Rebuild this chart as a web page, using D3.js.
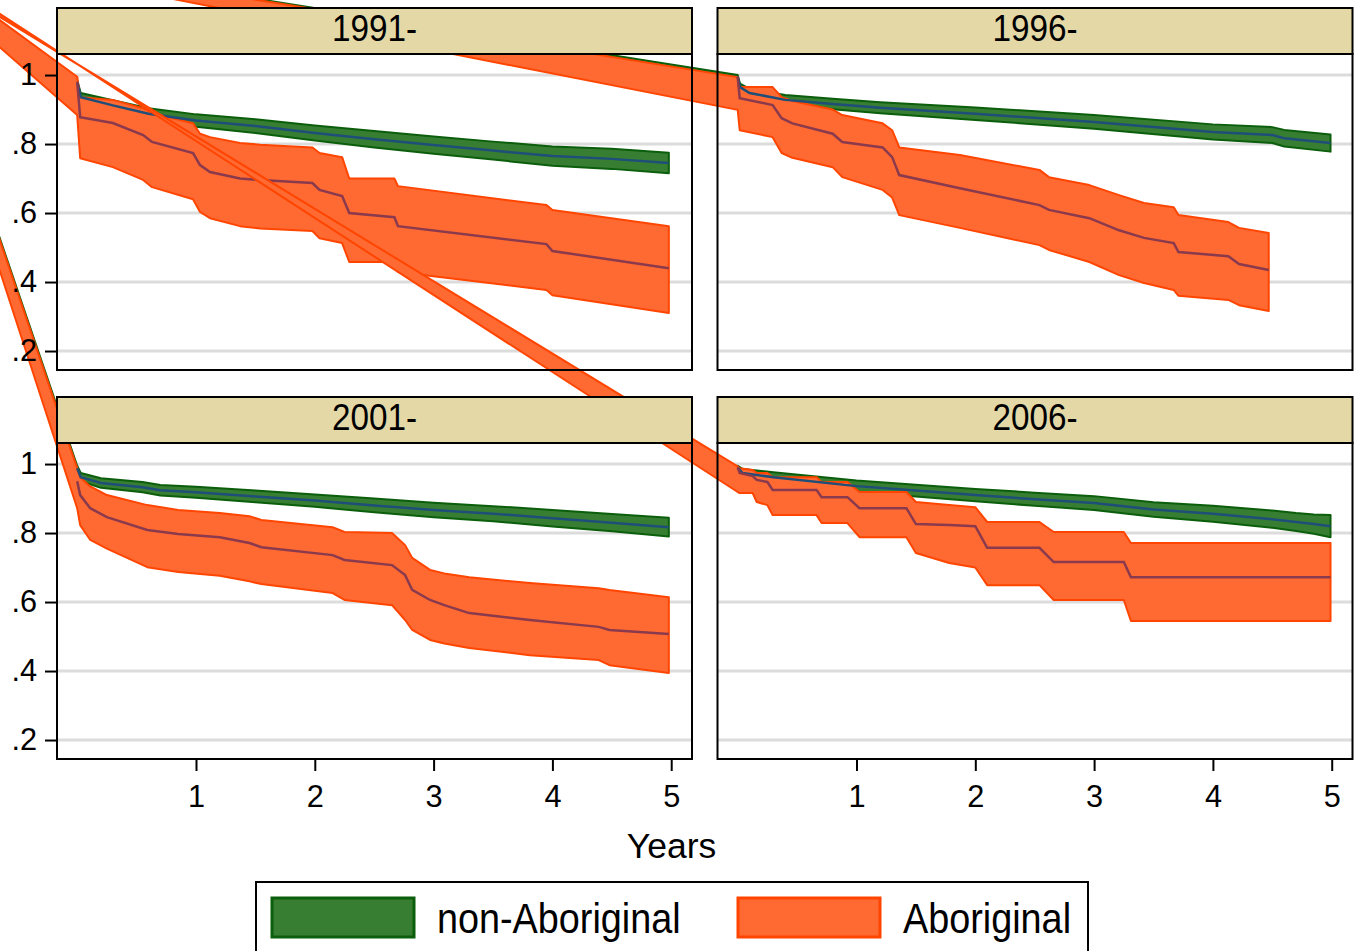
<!DOCTYPE html>
<html>
<head>
<meta charset="utf-8">
<script src="https://cdn.jsdelivr.net/npm/d3@7"></script>
<style>
  body { margin: 0; background: #fff; }
  svg { display: block; }
  text { font-family: "Liberation Sans", Arial, sans-serif; fill: #000; }
</style>
</head>
<body>
<div id="chart"></div>
<script>
// Kaplan-Meier style curves by period, with confidence bands

const panelLabels = ["1991-", "1996-", "2001-", "2006-"];
const groupLabels = ["non-Aboriginal", "Aboriginal"];
const yTicks = [0.2, 0.4, 0.6, 0.8, 1];
const xTicks = [1, 2, 3, 4, 5];

// rows: [years, lower, survival, upper]
const nonAb1991 = [
  [0, .975, .98, .985], [0.03, .924, .936, .948], [0.3, .897, .912, .927],
  [0.6, .872, .888, .904], [1, .85, .868, .886], [1.5, .832, .852, .872],
  [2, .81, .832, .854], [2.5, .79, .814, .838], [3, .772, .797, .822],
  [3.5, .755, .781, .807], [4, .737, .765, .793], [4.5, .728, .757, .786],
  [4.98, .715, .745, .775]
];
const ab1991 = [
  [0, .884, .98, .995], [0.025, .759, .878, .936], [0.3, .733, .861, .928],
  [0.555, .696, .826, .904], [0.63, .675, .806, .89], [0.975, .64, .774, .86],
  [1.034, .603, .739, .83], [1.118, .585, .719, .82], [1.37, .562, .70, .803],
  [1.54, .555, .696, .798], [1.98, .548, .687, .79], [2.04, .527, .667, .774],
  [2.23, .513, .649, .762], [2.29, .458, .60, .70], [2.67, .458, .588, .70],
  [2.7, .429, .562, .678], [3.95, .377, .51, .623], [4.0, .362, .49, .609],
  [4.98, .31, .44, .562]
];
const nonAb1996 = [
  [0, .99, .995, 1.0], [0.02, .955, .965, .975], [0.1, .936, .948, .96],
  [0.4, .914, .928, .942], [0.8, .901, .916, .931], [1.2, .889, .905, .921],
  [2, .87, .888, .906], [3, .844, .864, .884], [4, .813, .835, .857],
  [4.5, .803, .826, .849], [4.6, .793, .817, .841], [4.99, .778, .803, .828]
];
const ab1996 = [
  [0, .899, .995, .994], [0.017, .84, .933, .965], [0.294, .82, .913, .965],
  [0.37, .774, .875, .936], [0.46, .76, .86, .925], [0.8, .733, .83, .90],
  [0.88, .704, .806, .884], [1.22, .667, .79, .86], [1.3, .645, .762, .84],
  [1.36, .594, .71, .79], [1.87, .557, .672, .768], [2.54, .507, .623, .725],
  [2.62, .493, .609, .704], [2.96, .458, .585, .681], [3.21, .42, .55, .652],
  [3.42, .397, .528, .629], [3.67, .377, .513, .617], [3.71, .36, .487, .594],
  [4.13, .348, .475, .574], [4.22, .333, .452, .557], [4.47, .316, .435, .542]
];
const nonAb2001 = [
  [0, .98, .988, .995], [0.03, .95, .962, .974], [0.2, .931, .945, .959],
  [0.55, .918, .933, .948], [0.7, .909, .924, .939], [1, .902, .918, .934],
  [1.5, .889, .906, .923], [2, .876, .894, .912], [2.5, .86, .88, .90],
  [3, .846, .867, .888], [3.5, .834, .856, .878], [4, .819, .843, .867],
  [4.5, .805, .83, .855], [4.98, .79, .817, .844]
];
const ab2001 = [
  [0, .872, .95, .988], [0.025, .823, .91, .962], [0.11, .78, .872, .935],
  [0.25, .755, .846, .91], [0.59, .701, .809, .881], [0.85, .687, .797, .867],
  [1.2, .676, .788, .858], [1.45, .66, .771, .849], [1.55, .652, .759, .838],
  [2.15, .626, .736, .817], [2.25, .606, .722, .803], [2.65, .591, .707, .80],
  [2.76, .548, .678, .765], [2.82, .519, .635, .728], [2.97, .49, .606, .693],
  [3.09, .48, .591, .683], [3.3, .467, .568, .672], [3.81, .446, .548, .655],
  [4.39, .432, .528, .64], [4.48, .417, .519, .635], [4.98, .394, .507, .614]
];
const nonAb2006 = [
  [0, .98, .99, .995], [0.04, .962, .974, .986], [0.3, .948, .962, .976],
  [1, .92, .936, .952], [1.5, .906, .923, .94], [2, .892, .91, .928],
  [2.5, .879, .898, .917], [3, .867, .887, .907], [3.5, .847, .868, .889],
  [4, .833, .856, .879], [4.5, .815, .84, .865], [4.7, .806, .832, .858],
  [4.85, .798, .826, .854], [4.99, .788, .82, .852]
];
const ab2006 = [
  [0, .919, .99, .993], [0.017, .916, .974, .988], [0.126, .916, .965, .983],
  [0.16, .89, .954, .974], [0.25, .881, .948, .974], [0.294, .852, .925, .962],
  [0.664, .852, .925, .962], [0.706, .829, .904, .948], [0.924, .829, .904, .948],
  [1.025, .788, .872, .919], [1.42, .788, .872, .919], [1.5, .742, .826, .89],
  [1.78, .713, .823, .881], [2.0, .70, .82, .875], [2.1, .649, .757, .832],
  [2.54, .649, .757, .832], [2.66, .606, .716, .803], [3.25, .606, .716, .803],
  [3.31, .545, .672, .771], [4.99, .545, .672, .771]
];

// stray band vertices [joined to first upper point, joined to first lower point]
const strayNonAb = [null, [[-7.7, 1.42], [-7.7, 1.42]], [[-2.8, 3.83], [-2.8, 3.83]], null];
const strayAb = [
  [[-2.27, 1.568], [-2.27, 1.568]],
  [[-7.7, 1.42], [-7.7, 1.42]],
  [[-2.8, 3.83], [-2.8, 3.83]],
  [[-7.04, 2.47], [-7.04, 2.49]]
];

const nonAbData = [nonAb1991, nonAb1996, nonAb2001, nonAb2006];
const abData = [ab1991, ab1996, ab2001, ab2006];

const width = 1355, height = 951;
const pw = 635, ph = 316, stripH = 46;
const colX = [57, 717.5], rowY = [54, 443];

const colors = {
  nonFill: "#377e33", nonEdge: "#0b5e0b", nonLine: "#1f4e79",
  abFill: "#ff6a33", abEdge: "#ff4500", abLine: "#8a3a4c",
  strip: "#e4d8a6", grid: "#dcdcdc"
};

const x = d3.scaleLinear().domain([-0.17, 5.175]).range([0, pw]);
const y = d3.scaleLinear().domain([0.145, 1.061]).range([ph, 0]);

const svg = d3.select("#chart").append("svg")
  .attr("width", width)
  .attr("height", height);

// three layers so strips, frames and axes sit above every curve
const layers = ["back", "curves", "front"].map(() => svg.append("g"));

function panelGroups(layer) {
  return panelLabels.map((label, i) => {
    const col = i % 2, row = Math.floor(i / 2);
    return layer.append("g")
      .attr("transform", "translate(" + colX[col] + "," + rowY[row] + ")");
  });
}
const back = panelGroups(layers[0]);
const curves = panelGroups(layers[1]);
const front = panelGroups(layers[2]);

// gridlines
back.forEach(g => {
  g.append("g").selectAll("line")
    .data(yTicks)
    .enter().append("line")
    .attr("x1", 0).attr("x2", pw)
    .attr("y1", d => y(d)).attr("y2", d => y(d))
    .attr("stroke", colors.grid)
    .attr("stroke-width", 3);
});

const pt = d3.line().x(d => x(d[0])).y(d => y(d[1]));

function bandPath(rows, stray) {
  const hi = rows.map(r => [r[0], r[3]]);
  const lo = rows.map(r => [r[0], r[1]]).reverse();
  const pts = (stray ? [stray[0]] : []).concat(hi, lo, stray ? [stray[1]] : []);
  return pt(pts) + "Z";
}

// curves, panel by panel
curves.forEach((g, i) => {
  g.append("path")
    .attr("d", bandPath(nonAbData[i], strayNonAb[i]))
    .attr("fill", colors.nonFill)
    .attr("stroke", colors.nonEdge)
    .attr("stroke-width", 2)
    .attr("stroke-linejoin", "round");
  g.append("path")
    .attr("d", bandPath(abData[i], strayAb[i]))
    .attr("fill", colors.abFill)
    .attr("stroke", colors.abEdge)
    .attr("stroke-width", 2)
    .attr("stroke-linejoin", "round");
  g.append("path")
    .attr("d", pt(nonAbData[i].map(r => [r[0], r[2]])))
    .attr("fill", "none")
    .attr("stroke", colors.nonLine)
    .attr("stroke-width", 2.5);
  g.append("path")
    .attr("d", pt(abData[i].map(r => [r[0], r[2]])))
    .attr("fill", "none")
    .attr("stroke", colors.abLine)
    .attr("stroke-width", 2.5);
});

// axes: y on left column, x on bottom row
const fmtY = d => d === 1 ? "1" : d3.format(".1f")(d).replace(/^0/, "");
front.forEach((g, i) => {
  if (i % 2 === 0) {
    const ax = g.append("g")
      .call(d3.axisLeft(y).tickValues(yTicks).tickFormat(fmtY).tickSize(12).tickPadding(8));
    ax.select(".domain").remove();
    ax.attr("font-size", 30.7).attr("font-family", null);
    ax.selectAll("line").attr("stroke-width", 2);
  }
  if (i >= 2) {
    const ax = g.append("g")
      .attr("transform", "translate(0," + ph + ")")
      .call(d3.axisBottom(x).tickValues(xTicks).tickFormat(d3.format("d")).tickSize(12).tickPadding(14));
    ax.select(".domain").remove();
    ax.attr("font-size", 30.7).attr("font-family", null);
    ax.selectAll("line").attr("stroke-width", 2);
  }
});

// frames and strips
front.forEach((g, i) => {
  g.append("rect")
    .attr("width", pw).attr("height", ph)
    .attr("fill", "none")
    .attr("stroke", "#000")
    .attr("stroke-width", 2);
  g.append("rect")
    .attr("y", -stripH)
    .attr("width", pw).attr("height", stripH)
    .attr("fill", colors.strip)
    .attr("stroke", "#000")
    .attr("stroke-width", 2);
  g.append("text")
    .attr("transform", "translate(" + (pw / 2) + "," + (-13) + ") scale(0.9,1)")
    .attr("text-anchor", "middle")
    .attr("font-size", 37)
    .text(panelLabels[i]);
});

// x title
svg.append("text")
  .attr("x", 671.5)
  .attr("y", 858)
  .attr("text-anchor", "middle")
  .attr("font-size", 35.5)
  .text("Years");

// legend
const legend = svg.append("g");
legend.append("rect")
  .attr("x", 256).attr("y", 882)
  .attr("width", 832).attr("height", 90)
  .attr("fill", "#fff")
  .attr("stroke", "#000")
  .attr("stroke-width", 2);

const legendItems = [
  { label: groupLabels[0], fill: colors.nonFill, edge: colors.nonEdge, sx: 272, tx: 437 },
  { label: groupLabels[1], fill: colors.abFill, edge: colors.abEdge, sx: 738, tx: 903 }
];
legendItems.forEach(d => {
  legend.append("rect")
    .attr("x", d.sx).attr("y", 898)
    .attr("width", 142).attr("height", 39)
    .attr("fill", d.fill)
    .attr("stroke", d.edge)
    .attr("stroke-width", 3);
  legend.append("text")
    .attr("transform", "translate(" + d.tx + ",933) scale(0.9,1)")
    .attr("font-size", 42)
    .text(d.label);
});
</script>
</body>
</html>
